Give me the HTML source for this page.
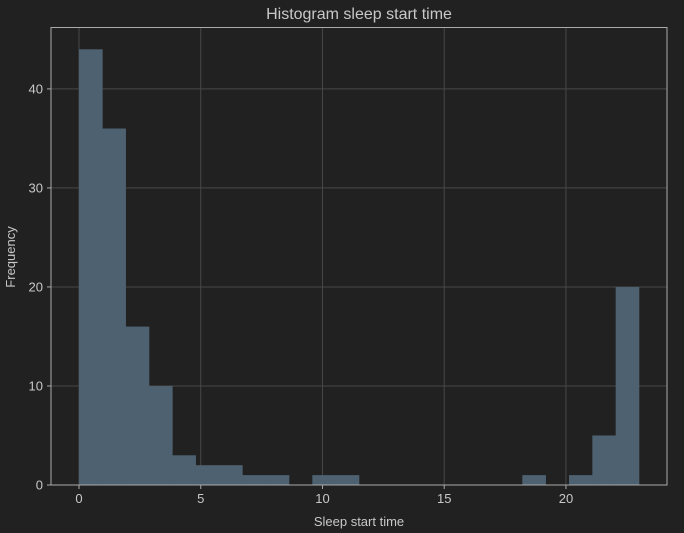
<!DOCTYPE html>
<html><head><meta charset="utf-8"><style>
html,body{margin:0;padding:0;background:#212121;}
svg{display:block;font-family:"Liberation Sans","DejaVu Sans",sans-serif;}
</style></head><body>
<svg id="chart" width="684" height="533" viewBox="0 0 684 533" xmlns="http://www.w3.org/2000/svg">
<rect x="0" y="0" width="684" height="533" fill="#212121"/>
<g id="grid"></g>
<g id="bars"></g>
<rect x="51" y="27.5" width="616" height="457.5" fill="none" stroke="#aaaaaa" stroke-width="1"/>
<g id="ticks"></g>
<text x="359" y="19" text-anchor="middle" font-size="16" fill="#c8c8c8">Histogram sleep start time</text>
<text x="359" y="526" text-anchor="middle" font-size="13" fill="#c8c8c8">Sleep start time</text>
<text transform="translate(15,257) rotate(-90)" text-anchor="middle" font-size="13" fill="#c8c8c8">Frequency</text>
</svg>
<script>
const counts = [44,36,16,10,3,2,2,1,1,0,1,1,0,0,0,0,0,0,0,1,0,1,5,20];
const binStart = 0;
const binEnd = 23;
const xTicks = [0,5,10,15,20];
const yTicks = [0,10,20,30,40];

const NS = "http://www.w3.org/2000/svg";
const L = 51, R = 667, T = 27.5, B = 485;
const xMin = binStart - (binEnd-binStart)*0.05, xMax = binEnd + (binEnd-binStart)*0.05;
const yMax = Math.max(...counts)*1.05;
const xs = v => L + (v - xMin)/(xMax - xMin)*(R - L);
const ys = v => B - v/yMax*(B - T);
function mk(tag, attrs, parent){const e=document.createElementNS(NS,tag);for(const k in attrs)e.setAttribute(k,attrs[k]);parent.appendChild(e);return e;}
const grid=document.getElementById('grid'), bars=document.getElementById('bars'), ticks=document.getElementById('ticks');
xTicks.forEach(t=>{
  const x=xs(t);
  const g=mk('line',{x1:x,x2:x,y1:T,y2:B,stroke:'#484848','stroke-width':1},grid);
  
  
  const tk=mk('line',{x1:x,x2:x,y1:B,y2:B+4,stroke:'#aaaaaa'},ticks);
  
  
  const tx=mk('text',{x:x,y:B+18,'text-anchor':'middle','font-size':13,fill:'#c8c8c8'},ticks);
  tx.textContent=t;
  
  
});
yTicks.forEach(t=>{
  const y=ys(t);
  const g=mk('line',{x1:L,x2:R,y1:y,y2:y,stroke:'#484848','stroke-width':1},grid);
  
  
  const tk=mk('line',{x1:L-4,x2:L,y1:y,y2:y,stroke:'#aaaaaa'},ticks);
  
  
  const tx=mk('text',{x:L-8,y:y+4.5,'text-anchor':'end','font-size':13,fill:'#c8c8c8'},ticks);
  tx.textContent=t;
  
  
});
const w=(binEnd-binStart)/counts.length;
counts.forEach((c,i)=>{
  if(!c) return;
  const x0=xs(binStart+i*w), x1=xs(binStart+(i+1)*w);
  const r=mk('rect',{x:x0,y:ys(c),width:x1-x0+0.3,height:B-ys(c),fill:'#4d6170'},bars);
  
  
});
</script>
</body></html>
